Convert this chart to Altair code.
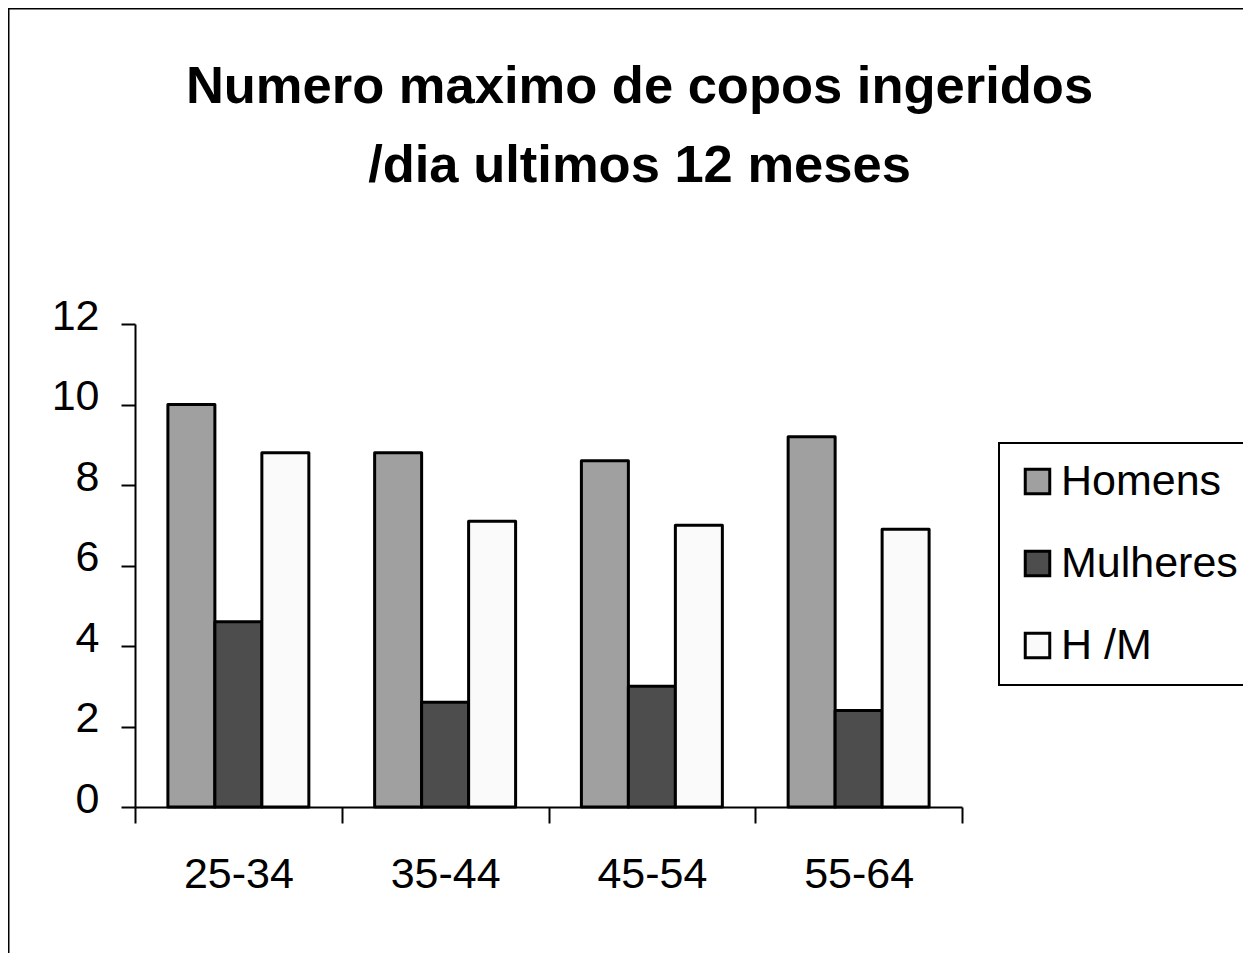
import altair as alt
import pandas as pd

age_groups = ["25-34", "35-44", "45-54", "55-64"]
series = ["Homens", "Mulheres", "H /M"]
homens = [10.0, 8.8, 8.6, 9.2]
mulheres = [4.6, 2.6, 3.0, 2.4]
hm = [8.8, 7.1, 7.0, 6.9]
y_ticks = [0, 2, 4, 6, 8, 10, 12]
colors = ["#a0a0a0", "#4d4d4d", "#fafafa"]
title_lines = ["Numero maximo de copos ingeridos", "/dia ultimos 12 meses"]

rows = []
for i, g in enumerate(age_groups):
    for s, vals in zip(series, [homens, mulheres, hm]):
        rows.append({"idade": g, "serie": s, "valor": vals[i]})
df = pd.DataFrame(rows)

FONT = "Liberation Sans"
W, H = 1235, 945
X0, X1 = 127, 954
Y0, Y12 = 799, 316

chart = (
    alt.Chart(df)
    .mark_bar(stroke="black", strokeWidth=3, strokeJoin="round")
    .encode(
        x=alt.X(
            "idade:N",
            sort=age_groups,
            scale=alt.Scale(range=[X0, X1], paddingInner=0, paddingOuter=0),
            axis=alt.Axis(
                title=None, labelAngle=0, tickBand="extent", offset=Y0 - H,
                domainColor="black", domainWidth=2, tickColor="black", tickWidth=2,
                tickSize=16, labelFontSize=43, labelPadding=30, labelColor="black",
                labelFont=FONT,
            ),
        ),
        xOffset=alt.XOffset(
            "serie:N", sort=series,
            scale=alt.Scale(paddingInner=0, paddingOuter=0.7),
        ),
        y=alt.Y(
            "valor:Q",
            scale=alt.Scale(domain=[0, 12], range=[Y0, Y12], nice=False),
            axis=alt.Axis(
                title=None, values=y_ticks, offset=-X0, grid=False,
                domainColor="black", domainWidth=2, tickColor="black", tickWidth=2,
                tickSize=14, labelFontSize=43, labelPadding=22, labelColor="black",
                labelFont=FONT, labelOffset=-8,
            ),
        ),
        color=alt.Color(
            "serie:N",
            sort=series,
            scale=alt.Scale(domain=series, range=colors),
            legend=alt.Legend(
                title=None, orient="none", legendX=991, legendY=435,
                strokeColor="black", padding=17, symbolType="square",
                symbolSize=600, symbolStrokeColor="black", symbolStrokeWidth=3,
                labelFontSize=43, labelFont=FONT, labelColor="black",
                labelOffset=2, rowPadding=38, labelLimit=400,
            ),
        ),
    )
    .properties(
        width=W,
        height=H,
        padding=0,
        autosize=alt.AutoSizeParams(type="none"),
        title=alt.TitleParams(
            text=title_lines, fontSize=52.5, font=FONT, fontWeight="bold",
            color="black", anchor="middle", frame="group", baseline="top",
            lineHeight=79, offset=-185, dx=14,
        ),
    )
    .configure_view(stroke="black", strokeWidth=3, strokeDash=[W, H + W, H, 0])
    .configure_legend(strokeWidth=2)
)

chart.save("out.html", embed_options={"renderer": "svg", "actions": False})
